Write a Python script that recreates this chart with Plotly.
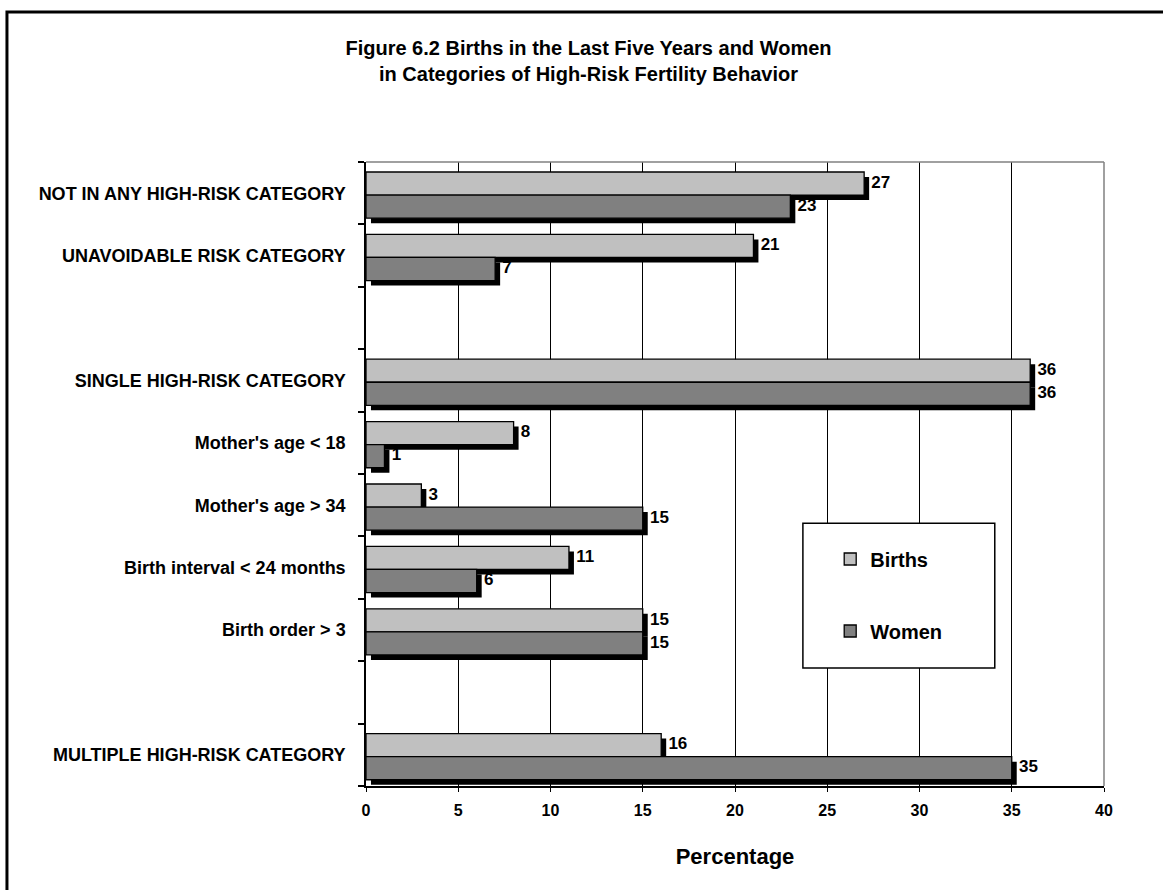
import plotly.graph_objects as go

# ---- data ----
categories = ["NOT IN ANY HIGH-RISK CATEGORY", "UNAVOIDABLE RISK CATEGORY", "",
              "SINGLE HIGH-RISK CATEGORY", "Mother's age < 18", "Mother's age > 34",
              "Birth interval < 24 months", "Birth order > 3", "",
              "MULTIPLE HIGH-RISK CATEGORY"]
births = [27, 21, None, 36, 8, 3, 11, 15, None, 16]
women = [23, 7, None, 36, 1, 15, 6, 15, None, 35]
x_ticks = [0, 5, 10, 15, 20, 25, 30, 35, 40]

font = "Liberation Sans, Arial, sans-serif"
pos = list(range(len(categories)))

## bar geometry (in slot units) ##
bw = 0.37
off_b = -0.34
off_w = off_b + bw
sh_x = 0.27   # shadow shift along value axis
sh_y = 0.08   # shadow shift along category axis

fig = go.Figure()

series = [("Births", births, off_b, "#c0c0c0"), ("Women", women, off_w, "#808080")]
for name, vals, off, col in series:
    yy = [p for p, v in zip(pos, vals) if v is not None]
    xx = [v for v in vals if v is not None]
    # shadow
    fig.add_trace(go.Bar(y=yy, x=xx, base=sh_x, orientation="h", width=bw, offset=off + sh_y,
                         marker=dict(color="black", line=dict(width=0)),
                         showlegend=False, hoverinfo="skip"))
    # bar
    fig.add_trace(go.Bar(y=yy, x=xx, orientation="h", width=bw, offset=off, name=name,
                         marker=dict(color=col, line=dict(color="black", width=1.3)),
                         legendgroup=name))

for name, vals, off, col in series:
    yy = [p + off + bw / 2 for p, v in zip(pos, vals) if v is not None]
    xx = [v + sh_x + 0.12 for v in vals if v is not None]
    fig.add_trace(go.Scatter(y=yy, x=xx, mode="text", text=[str(v) for v in vals if v is not None],
                             textposition="middle right",
                             textfont=dict(family=font, size=17, color="black", weight="bold"),
                             showlegend=False, hoverinfo="skip"))

fig.update_layout(
    width=1163, height=890,
    barmode="overlay",
    plot_bgcolor="white", paper_bgcolor="white",
    font=dict(family=font, color="black"),
    margin=dict(l=366, r=59, t=162, b=104),
    title=dict(text="Figure 6.2 Births in the Last Five Years and Women<br>in Categories of High-Risk Fertility Behavior",
               xref="container", x=0.506, xanchor="center",
               yref="container", y=0.938, yanchor="top",
               font=dict(family=font, size=20, weight="bold")),
    legend=dict(x=0.629, xanchor="left", y=0.395, yanchor="top",
                traceorder="grouped", tracegroupgap=43,
                bgcolor="rgba(0,0,0,0)",
                font=dict(family=font, size=20, weight="bold")),
)

fig.update_xaxes(range=[0, 40], tickvals=x_ticks, showgrid=True, gridcolor="black", gridwidth=1,
                 zeroline=False, showline=True, linecolor="black", linewidth=1.5,
                 ticks="outside", ticklen=4, tickcolor="black", ticklabelstandoff=5,
                 tickfont=dict(family=font, size=16, weight="bold"),
                 title=dict(text="Percentage", standoff=31,
                            font=dict(family=font, size=22, weight="bold")))

fig.update_yaxes(range=[len(categories) - 0.5, -0.5], tickvals=pos, ticktext=categories,
                 showgrid=False, zeroline=False, showline=True, linecolor="black", linewidth=1.5,
                 ticks="", ticklabelstandoff=15,
                 minor=dict(tickmode="array", tickvals=[p - 0.5 for p in pos] + [len(pos) - 0.5],
                            ticks="outside", ticklen=6, tickcolor="black", tickwidth=1.5, showgrid=False),
                 tickfont=dict(family=font, size=18, weight="bold"))

## frame: gray top/right of plot area, legend box, outer border ##
fig.add_shape(type="line", xref="paper", yref="paper", x0=0, x1=1, y0=1, y1=1,
              line=dict(color="#808080", width=1.5), layer="above")
fig.add_shape(type="line", xref="paper", yref="paper", x0=1, x1=1, y0=0, y1=1,
              line=dict(color="#808080", width=1.5), layer="above")
fig.add_shape(type="rect", xref="paper", yref="paper", x0=0.592, x1=0.852, y0=0.189, y1=0.421,
              line=dict(color="black", width=1.5), fillcolor="white", layer="above")
fig.add_shape(type="rect", xref="paper", yref="paper", x0=-0.4865, x1=1.1, y0=-0.2, y1=1.2404,
              line=dict(color="black", width=3), fillcolor="rgba(0,0,0,0)", layer="above")

# page body has a default 8px margin; drop it so the figure sits at the window origin
fig.write_html("out.html", config={"displayModeBar": False},
               post_script="document.body.style.margin='0';")
